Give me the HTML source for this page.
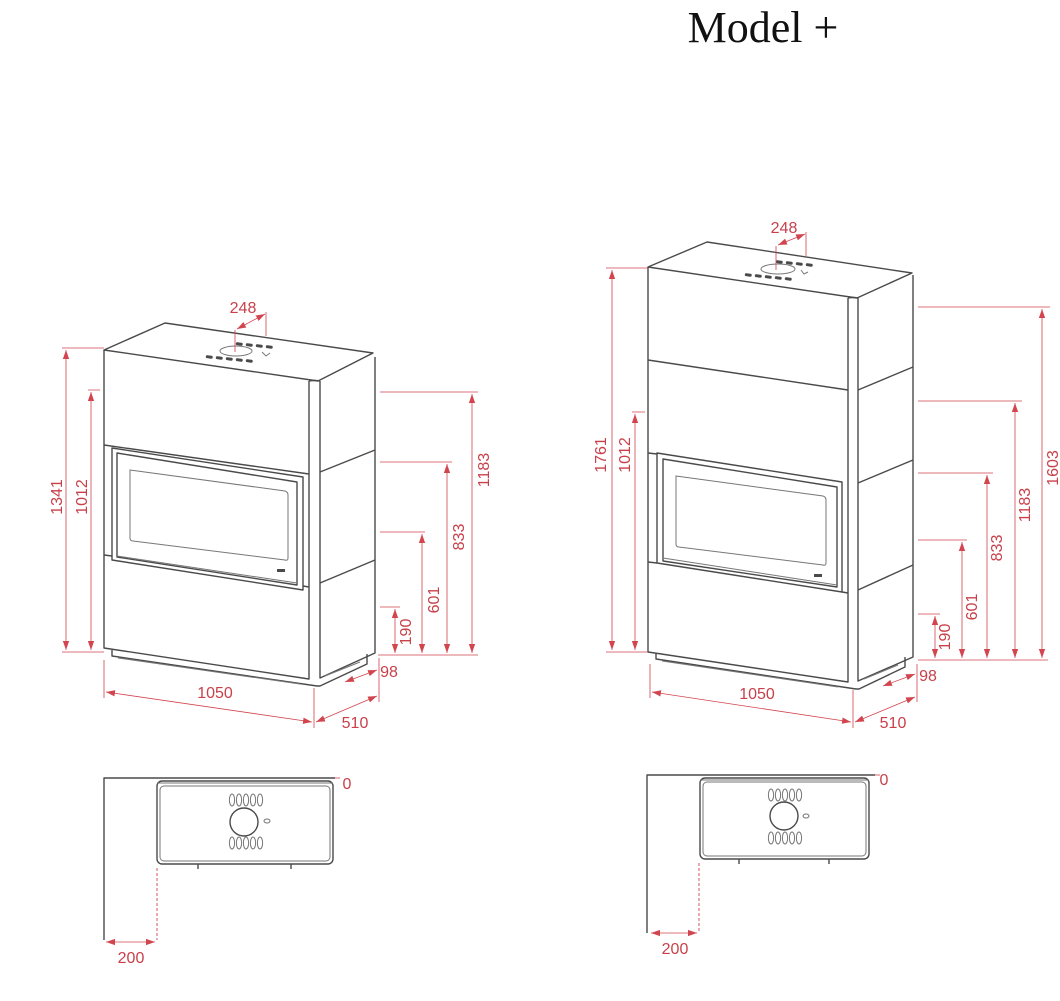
<!DOCTYPE html>
<html><head><meta charset="utf-8"><style>
html,body{margin:0;padding:0;background:#fff;}
svg{display:block;}
.s{fill:none;stroke:#4a4a4a;stroke-width:1.4;stroke-linejoin:round;}
.t{fill:none;stroke:#777;stroke-width:1;}
.r{fill:none;stroke:#d2454f;stroke-width:0.8;}
.rd{fill:none;stroke:#d2454f;stroke-width:0.9;stroke-dasharray:3 2;}
.lab{font-family:"Liberation Sans",sans-serif;font-size:16px;fill:#c8404a;}
.sl{fill:#4a4a4a;}
</style></head><body>
<svg width="1060" height="1001" viewBox="0 0 1060 1001" xmlns="http://www.w3.org/2000/svg">
<defs>
<marker id="a" viewBox="0 0 10 10" refX="10" refY="5" markerWidth="9" markerHeight="9" orient="auto-start-reverse" markerUnits="userSpaceOnUse"><path d="M0,1.5 L10,5 L0,8.5 z" fill="#d2454f"/></marker>
</defs>

<text x="763" y="42" text-anchor="middle" font-family="Liberation Serif,serif" font-size="44" fill="#111">Model +</text>

<!-- ===== LEFT STOVE ===== -->
<g>
<path class="s" d="M104,350 L165,323 L373,353 L318,381 Z"/>
<path class="s" d="M104,350 L104,648 L309,679 L309,381"/>
<path class="s" d="M320,381 L320,678 L375,653 L375,357"/>
<path class="s" d="M309,381 Q314,380 320,381"/>
<path class="s" d="M104,445 L309,474 M320,472 L375,450"/>
<path class="s" d="M104,555 L112,556 M303,586 L309,587 M320,583 L375,560"/>
<path class="s" d="M112,448 L303,477 L303,590 L112,560 Z"/>
<path class="s" d="M117,453 L297,482 L297,585 L117,557 Z"/>
<path class="t" d="M130,470 L285,491 Q288,492 288,495 L288,558 Q288,561 285,560 L133,541 Q130,541 130,538 Z"/>
<path class="t" d="M117,556 L297,583"/>
<rect x="277" y="569" width="8" height="3" class="sl"/>
<path class="s" d="M112,650 L112,656 L317,686 L320,686 L367,664 L367,654"/>
<path class="t" d="M118,658 L300,684 M325,676 L360,662"/>
<ellipse cx="236" cy="351" rx="16" ry="5" class="t"/>
<g class="sl">
<rect x="236" y="342" width="7" height="3" rx="1.5" transform="rotate(8 236 342)"/>
<rect x="246" y="343" width="7" height="3" rx="1.5" transform="rotate(8 246 343)"/>
<rect x="256" y="344" width="7" height="3" rx="1.5" transform="rotate(8 256 344)"/>
<rect x="266" y="345" width="7" height="3" rx="1.5" transform="rotate(8 266 345)"/>
<rect x="206" y="355" width="7" height="3" rx="1.5" transform="rotate(8 206 355)"/>
<rect x="216" y="356" width="7" height="3" rx="1.5" transform="rotate(8 216 356)"/>
<rect x="226" y="357" width="7" height="3" rx="1.5" transform="rotate(8 226 357)"/>
<rect x="236" y="358" width="7" height="3" rx="1.5" transform="rotate(8 236 358)"/>
<rect x="246" y="359" width="7" height="3" rx="1.5" transform="rotate(8 246 359)"/>
</g>
<path class="t" d="M262,352 L266,356 L270,353"/>
<path class="r" d="M235,352 L235,330 M266,336 L266,312"/>
<path class="r" d="M237,329 L265,314" marker-start="url(#a)" marker-end="url(#a)"/>
<text class="lab" x="243" y="313" text-anchor="middle">248</text>

<path class="r" d="M62,348 L104,348 M62,652 L104,652 M88,390 L100,390"/>
<path class="r" d="M66,350 L66,650" marker-start="url(#a)" marker-end="url(#a)"/>
<path class="r" d="M91,392 L91,650" marker-start="url(#a)" marker-end="url(#a)"/>
<text class="lab" transform="translate(62,497) rotate(-90)" text-anchor="middle">1341</text>
<text class="lab" transform="translate(87,497) rotate(-90)" text-anchor="middle">1012</text>

<path class="r" d="M380,392 L478,392 M380,462 L452,462 M380,532 L425,532 M380,607 L400,607 M378,655 L478,655"/>
<path class="r" d="M472,394 L472,653" marker-start="url(#a)" marker-end="url(#a)"/>
<path class="r" d="M447,464 L447,653" marker-start="url(#a)" marker-end="url(#a)"/>
<path class="r" d="M422,534 L422,653" marker-start="url(#a)" marker-end="url(#a)"/>
<path class="r" d="M395,609 L395,653" marker-start="url(#a)" marker-end="url(#a)"/>
<text class="lab" transform="translate(489,470) rotate(-90)" text-anchor="middle">1183</text>
<text class="lab" transform="translate(464,537) rotate(-90)" text-anchor="middle">833</text>
<text class="lab" transform="translate(439,600) rotate(-90)" text-anchor="middle">601</text>
<text class="lab" transform="translate(411,632) rotate(-90)" text-anchor="middle">190</text>

<path class="r" d="M104,660 L104,698 M314,688 L314,728 M379,658 L379,702"/>
<path class="r" d="M106,692 L312,722" marker-start="url(#a)" marker-end="url(#a)"/>
<path class="r" d="M316,722 L377,696" marker-start="url(#a)" marker-end="url(#a)"/>
<path class="r" d="M345,682 L377,670" marker-start="url(#a)" marker-end="url(#a)"/>
<text class="lab" x="215" y="698" text-anchor="middle">1050</text>
<text class="lab" x="355" y="728" text-anchor="middle">510</text>
<text class="lab" x="389" y="677" text-anchor="middle">98</text>
</g>

<!-- ===== RIGHT STOVE ===== -->
<g>
<path class="s" d="M648,267 L707,242 L912,273 L857,298 Z"/>
<path class="s" d="M648,267 L648,652 L848,682 L848,298"/>
<path class="s" d="M858,298 L858,681 L913,657 L913,275"/>
<path class="s" d="M848,298 Q853,297 858,298"/>
<path class="s" d="M648,360 L848,390 M858,390 L913,367"/>
<path class="s" d="M648,453 L657,454 M858,483 L913,460"/>
<path class="s" d="M648,562 L657,563 M842,592 L848,593 M858,590 L913,565"/>
<path class="s" d="M657,453 L842,482 L842,592 L657,563 Z"/>
<path class="s" d="M663,459 L837,487 L837,587 L663,561 Z"/>
<path class="t" d="M676,476 L823,496 Q826,497 826,500 L826,563 Q826,566 823,565 L679,547 Q676,547 676,544 Z"/>
<path class="t" d="M663,558 L837,585"/>
<rect x="814" y="574" width="8" height="3" class="sl"/>
<path class="s" d="M656,653 L656,659 L856,689 L859,689 L905,667 L905,657"/>
<path class="t" d="M662,661 L838,687 M864,679 L898,665"/>
<ellipse cx="778" cy="269" rx="17" ry="5" class="t"/>
<g class="sl">
<rect x="776" y="260" width="7" height="3" rx="1.5" transform="rotate(8 776 260)"/>
<rect x="786" y="261" width="7" height="3" rx="1.5" transform="rotate(8 786 261)"/>
<rect x="796" y="262" width="7" height="3" rx="1.5" transform="rotate(8 796 262)"/>
<rect x="806" y="263" width="7" height="3" rx="1.5" transform="rotate(8 806 263)"/>
<rect x="745" y="273" width="7" height="3" rx="1.5" transform="rotate(8 745 273)"/>
<rect x="755" y="274" width="7" height="3" rx="1.5" transform="rotate(8 755 274)"/>
<rect x="765" y="275" width="7" height="3" rx="1.5" transform="rotate(8 765 275)"/>
<rect x="775" y="276" width="7" height="3" rx="1.5" transform="rotate(8 775 276)"/>
<rect x="785" y="277" width="7" height="3" rx="1.5" transform="rotate(8 785 277)"/>
</g>
<path class="t" d="M801,270 L804,274 L808,272"/>
<path class="r" d="M776,270 L776,246 M806,256 L806,232"/>
<path class="r" d="M778,245 L805,234" marker-start="url(#a)" marker-end="url(#a)"/>
<text class="lab" x="784" y="233" text-anchor="middle">248</text>

<path class="r" d="M606,268 L648,268 M606,652 L648,652 M632,412 L645,412"/>
<path class="r" d="M612,270 L612,650" marker-start="url(#a)" marker-end="url(#a)"/>
<path class="r" d="M635,414 L635,650" marker-start="url(#a)" marker-end="url(#a)"/>
<text class="lab" transform="translate(606,455) rotate(-90)" text-anchor="middle">1761</text>
<text class="lab" transform="translate(630,455) rotate(-90)" text-anchor="middle">1012</text>

<path class="r" d="M918,307 L1050,307 M918,401 L1022,401 M918,473 L993,473 M918,540 L967,540 M918,614 L940,614 M918,660 L1048,660"/>
<path class="r" d="M1042,309 L1042,658" marker-start="url(#a)" marker-end="url(#a)"/>
<path class="r" d="M1015,403 L1015,658" marker-start="url(#a)" marker-end="url(#a)"/>
<path class="r" d="M987,475 L987,658" marker-start="url(#a)" marker-end="url(#a)"/>
<path class="r" d="M962,542 L962,658" marker-start="url(#a)" marker-end="url(#a)"/>
<path class="r" d="M935,616 L935,658" marker-start="url(#a)" marker-end="url(#a)"/>
<text class="lab" transform="translate(1058,468) rotate(-90)" text-anchor="middle">1603</text>
<text class="lab" transform="translate(1030,505) rotate(-90)" text-anchor="middle">1183</text>
<text class="lab" transform="translate(1002,548) rotate(-90)" text-anchor="middle">833</text>
<text class="lab" transform="translate(977,607) rotate(-90)" text-anchor="middle">601</text>
<text class="lab" transform="translate(950,637) rotate(-90)" text-anchor="middle">190</text>

<path class="r" d="M650,664 L650,698 M853,690 L853,728 M917,664 L917,702"/>
<path class="r" d="M652,692 L851,722" marker-start="url(#a)" marker-end="url(#a)"/>
<path class="r" d="M855,722 L915,697" marker-start="url(#a)" marker-end="url(#a)"/>
<path class="r" d="M883,686 L915,674" marker-start="url(#a)" marker-end="url(#a)"/>
<text class="lab" x="757" y="699" text-anchor="middle">1050</text>
<text class="lab" x="893" y="728" text-anchor="middle">510</text>
<text class="lab" x="928" y="681" text-anchor="middle">98</text>
</g>

<!-- ===== LEFT TOP VIEW ===== -->
<g>
<path class="s" d="M104,940 L104,778 L335,778"/>
<path class="r" d="M335,778 L340,778"/>
<rect x="157" y="781" width="176" height="83" rx="5" class="s"/>
<rect x="160" y="786" width="170" height="75" rx="4" class="t"/>
<path class="t" d="M157,783 L333,783"/>
<circle cx="244" cy="822" r="14" class="s" stroke-width="1.2"/>
<g class="t">
<ellipse cx="232" cy="800" rx="2.6" ry="6"/><ellipse cx="239" cy="800" rx="2.6" ry="6"/><ellipse cx="246" cy="800" rx="2.6" ry="6"/><ellipse cx="253" cy="800" rx="2.6" ry="6"/><ellipse cx="260" cy="800" rx="2.6" ry="6"/>
<ellipse cx="232" cy="843" rx="2.6" ry="6"/><ellipse cx="239" cy="843" rx="2.6" ry="6"/><ellipse cx="246" cy="843" rx="2.6" ry="6"/><ellipse cx="253" cy="843" rx="2.6" ry="6"/><ellipse cx="260" cy="843" rx="2.6" ry="6"/>
<ellipse cx="267" cy="821" rx="3" ry="2"/>
</g>
<path class="s" d="M198,864 L198,869 M291,864 L291,869"/>
<path class="rd" d="M157,868 L157,940"/>
<path class="r" d="M106,942 L155,942" marker-start="url(#a)" marker-end="url(#a)"/>
<text class="lab" x="131" y="963" text-anchor="middle">200</text>
<text class="lab" x="347" y="789" text-anchor="middle">0</text>
</g>

<!-- ===== RIGHT TOP VIEW ===== -->
<g>
<path class="s" d="M647,933 L647,775 L875,775"/>
<path class="r" d="M875,775 L880,775"/>
<rect x="700" y="778" width="169" height="81" rx="5" class="s"/>
<rect x="703" y="782" width="163" height="74" rx="4" class="t"/>
<path class="t" d="M700,780 L869,780"/>
<circle cx="784" cy="816" r="14" class="s" stroke-width="1.2"/>
<g class="t">
<ellipse cx="771" cy="795" rx="2.6" ry="6"/><ellipse cx="778" cy="795" rx="2.6" ry="6"/><ellipse cx="785" cy="795" rx="2.6" ry="6"/><ellipse cx="792" cy="795" rx="2.6" ry="6"/><ellipse cx="799" cy="795" rx="2.6" ry="6"/>
<ellipse cx="771" cy="838" rx="2.6" ry="6"/><ellipse cx="778" cy="838" rx="2.6" ry="6"/><ellipse cx="785" cy="838" rx="2.6" ry="6"/><ellipse cx="792" cy="838" rx="2.6" ry="6"/><ellipse cx="799" cy="838" rx="2.6" ry="6"/>
<ellipse cx="806" cy="816" rx="3" ry="2"/>
</g>
<path class="s" d="M739,859 L739,864 M829,859 L829,864"/>
<path class="rd" d="M699,863 L699,933"/>
<path class="r" d="M651,933 L697,933" marker-start="url(#a)" marker-end="url(#a)"/>
<text class="lab" x="675" y="954" text-anchor="middle">200</text>
<text class="lab" x="884" y="785" text-anchor="middle">0</text>
</g>
</svg>
</body></html>
